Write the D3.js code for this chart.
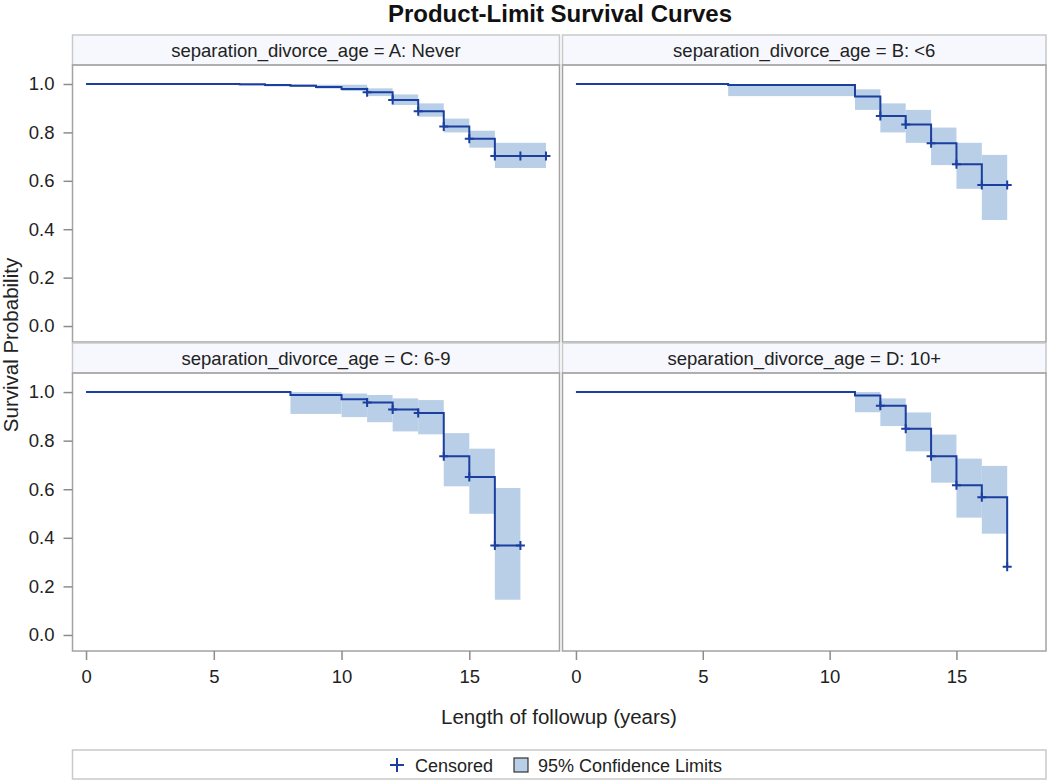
<!DOCTYPE html>
<html>
<head>
<meta charset="utf-8">
<script src="https://cdn.jsdelivr.net/npm/d3@7"></script>
<style>
  body { margin: 0; background: #fff; }
  svg { display: block; font-family: "Liberation Sans", Arial, sans-serif; }
</style>
</head>
<body>
<div id="plot"></div>
<script>
// Kaplan-Meier estimates
const panelLabels = ["A: Never", "B: <6", "C: 6-9", "D: 10+"];

const timesA = [0, 6, 7, 8, 9, 10, 11, 12, 13, 14, 15, 16];
const survA  = [1, 0.999, 0.996, 0.993, 0.988, 0.979, 0.966, 0.934, 0.887, 0.824, 0.774, 0.702];
const lowerA = [1, 0.993, 0.990, 0.988, 0.981, 0.971, 0.950, 0.913, 0.865, 0.800, 0.737, 0.653];
const upperA = [1, 1.0, 1.0, 0.999, 0.997, 0.997, 0.982, 0.957, 0.920, 0.857, 0.807, 0.757];
const censA  = [11, 12, 13, 14, 15, 16, 17, 18];
const endA = 18;

const timesB = [0, 6, 11, 12, 13, 14, 15, 16];
const survB  = [1, 0.996, 0.948, 0.868, 0.833, 0.755, 0.668, 0.583];
const lowerB = [1, 0.950, 0.893, 0.800, 0.757, 0.665, 0.567, 0.438];
const upperB = [1, 1.0, 0.978, 0.920, 0.893, 0.820, 0.757, 0.707];
const censB  = [12, 13, 14, 15, 16, 17];
const endB = 17;

const timesC = [0, 8, 10, 11, 12, 13, 14, 15, 16];
const survC  = [1, 0.988, 0.970, 0.957, 0.928, 0.914, 0.736, 0.650, 0.368];
const lowerC = [1, 0.910, 0.897, 0.876, 0.838, 0.826, 0.612, 0.499, 0.145];
const upperC = [1, 1.0, 0.994, 0.988, 0.974, 0.967, 0.831, 0.767, 0.605];
const censC  = [11, 12, 13, 14, 15, 16, 17];
const endC = 17;

const timesD = [0, 11, 12, 13, 14, 15, 16, 17];
const survD  = [1, 0.986, 0.944, 0.849, 0.736, 0.616, 0.567, 0.281];
const lowerD = [1, 0.917, 0.860, 0.756, 0.627, 0.483, 0.417, 0.281];
const upperD = [1, 1.0, 0.974, 0.916, 0.825, 0.726, 0.696, 0.281];
const censD  = [12, 13, 14, 15, 16, 17];
const endD = 17;

const xTicks = [0, 5, 10, 15];
const yTicks = [0, 0.2, 0.4, 0.6, 0.8, 1.0];

const w = 1050, h = 781;
const lineColor = "#1b3f9e";
const bandColor = "#b9cfe8";
const frameColor = "#a3a3a3";

const panels = [
  {label: panelLabels[0], t: timesA, s: survA, lo: lowerA, hi: upperA, cens: censA, end: endA, col: 0, row: 0},
  {label: panelLabels[1], t: timesB, s: survB, lo: lowerB, hi: upperB, cens: censB, end: endB, col: 1, row: 0},
  {label: panelLabels[2], t: timesC, s: survC, lo: lowerC, hi: upperC, cens: censC, end: endC, col: 0, row: 1},
  {label: panelLabels[3], t: timesD, s: survD, lo: lowerD, hi: upperD, cens: censD, end: endD, col: 1, row: 1}
];

const cols = [[72.5, 559.5], [562.5, 1046]];
const rows = [{head: 35, top: 65, bottom: 342}, {head: 343, top: 373, bottom: 651}];

const svg = d3.select("div#plot")
  .append("svg")
  .attr("width", w)
  .attr("height", h);

svg.append("rect").attr("width", w).attr("height", h).attr("fill", "white");

svg.append("text")
  .attr("x", 560).attr("y", 22)
  .attr("text-anchor", "middle")
  .style("font-size", "24px").style("font-weight", "bold")
  .attr("fill", "#111")
  .text("Product-Limit Survival Curves");

const xScales = cols.map(c => d3.scaleLinear().domain([-0.53, 18.53]).range(c));
const yScales = rows.map(r => d3.scaleLinear().domain([-0.066, 1.0785]).range([r.bottom, r.top]));

panels.forEach(p => {
  const x = xScales[p.col], y = yScales[p.row], r = rows[p.row];
  const [x0, x1] = cols[p.col];
  const g = svg.append("g");

  // header strip
  g.append("rect")
    .attr("x", x0).attr("y", r.head)
    .attr("width", x1 - x0).attr("height", r.top - r.head)
    .attr("fill", "#f6f8fd").attr("stroke", "#c9c9c9").attr("stroke-width", 1.5);
  g.append("text")
    .attr("x", (x0 + x1) / 2).attr("y", (r.head + r.top) / 2 + 6.5)
    .attr("text-anchor", "middle")
    .style("font-size", "18.5px").attr("fill", "#222")
    .text("separation_divorce_age = " + p.label);

  // confidence bands
  const ends = p.t.slice(1).concat([p.end]);
  g.selectAll(".band")
    .data(p.t.map((t, i) => ({t0: t, t1: ends[i], lo: p.lo[i], hi: p.hi[i]}))
      .filter(d => d.hi > d.lo && d.t1 > d.t0))
    .enter().append("rect")
    .attr("class", "band")
    .attr("x", d => x(d.t0))
    .attr("y", d => y(d.hi))
    .attr("width", d => x(d.t1) - x(d.t0))
    .attr("height", d => y(d.lo) - y(d.hi))
    .attr("fill", bandColor);

  // step curve
  const pts = [];
  p.t.forEach((t, i) => {
    if (i > 0) pts.push([t, p.s[i - 1]]);
    pts.push([t, p.s[i]]);
  });
  pts.push([p.end, p.s[p.s.length - 1]]);
  g.append("path")
    .attr("d", d3.line().x(d => x(d[0])).y(d => y(d[1]))(pts))
    .attr("fill", "none").attr("stroke", lineColor).attr("stroke-width", 2);

  // censored marks
  const survAt = t => p.s[d3.bisectRight(p.t, t) - 1];
  const m = 4.5;
  g.selectAll(".cens")
    .data(p.cens)
    .enter().append("path")
    .attr("class", "cens")
    .attr("d", t => {
      const cx = x(t), cy = y(survAt(t));
      return `M${cx - m},${cy}H${cx + m}M${cx},${cy - m}V${cy + m}`;
    })
    .attr("stroke", lineColor).attr("stroke-width", 2);

  // frame
  g.append("rect")
    .attr("x", x0).attr("y", r.top)
    .attr("width", x1 - x0).attr("height", r.bottom - r.top)
    .attr("fill", "none").attr("stroke", frameColor).attr("stroke-width", 1.5);

  // y axis on the left column
  if (p.col === 0) {
    const ya = g.append("g")
      .attr("transform", `translate(${x0},0)`)
      .call(d3.axisLeft(y).tickValues(yTicks).tickFormat(d3.format(".1f")).tickSize(9).tickPadding(9));
    ya.select(".domain").remove();
    ya.selectAll("line").attr("stroke", "#8c8c8c").attr("stroke-width", 1.5);
    ya.selectAll("text").style("font-size", "18.5px").style("font-family", "Liberation Sans, Arial").attr("fill", "#222");
  }
  // x axis on the bottom row
  if (p.row === 1) {
    const xa = g.append("g")
      .attr("transform", `translate(0,${r.bottom})`)
      .call(d3.axisBottom(x).tickValues(xTicks).tickSize(9).tickPadding(10));
    xa.select(".domain").remove();
    xa.selectAll("line").attr("stroke", "#8c8c8c").attr("stroke-width", 1.5);
    xa.selectAll("text").style("font-size", "18.5px").style("font-family", "Liberation Sans, Arial").attr("fill", "#222");
  }
});

svg.append("text")
  .attr("transform", "rotate(-90)")
  .attr("x", -345).attr("y", 18)
  .attr("text-anchor", "middle")
  .style("font-size", "20.5px").attr("fill", "#222")
  .text("Survival Probability");

svg.append("text")
  .attr("x", 559).attr("y", 724)
  .attr("text-anchor", "middle")
  .style("font-size", "20.5px").attr("fill", "#222")
  .text("Length of followup (years)");

// legend
svg.append("rect")
  .attr("x", 72.5).attr("y", 750)
  .attr("width", 1046 - 72.5).attr("height", 29)
  .attr("fill", "white").attr("stroke", "#c9c9c9").attr("stroke-width", 1.5);

const lg = svg.append("g");
const ly = 765;
lg.append("path")
  .attr("d", `M${390},${ly}H${404}M${397},${ly - 7}V${ly + 7}`)
  .attr("stroke", lineColor).attr("stroke-width", 2);
lg.append("text")
  .attr("x", 415).attr("y", ly + 6.5)
  .style("font-size", "18px").attr("fill", "#222")
  .text("Censored");
lg.append("rect")
  .attr("x", 514).attr("y", ly - 7).attr("width", 14).attr("height", 14)
  .attr("fill", bandColor).attr("stroke", "#333").attr("stroke-width", 1.2);
lg.append("text")
  .attr("x", 538).attr("y", ly + 6.5)
  .style("font-size", "18px").attr("fill", "#222")
  .text("95% Confidence Limits");
</script>
</body>
</html>
